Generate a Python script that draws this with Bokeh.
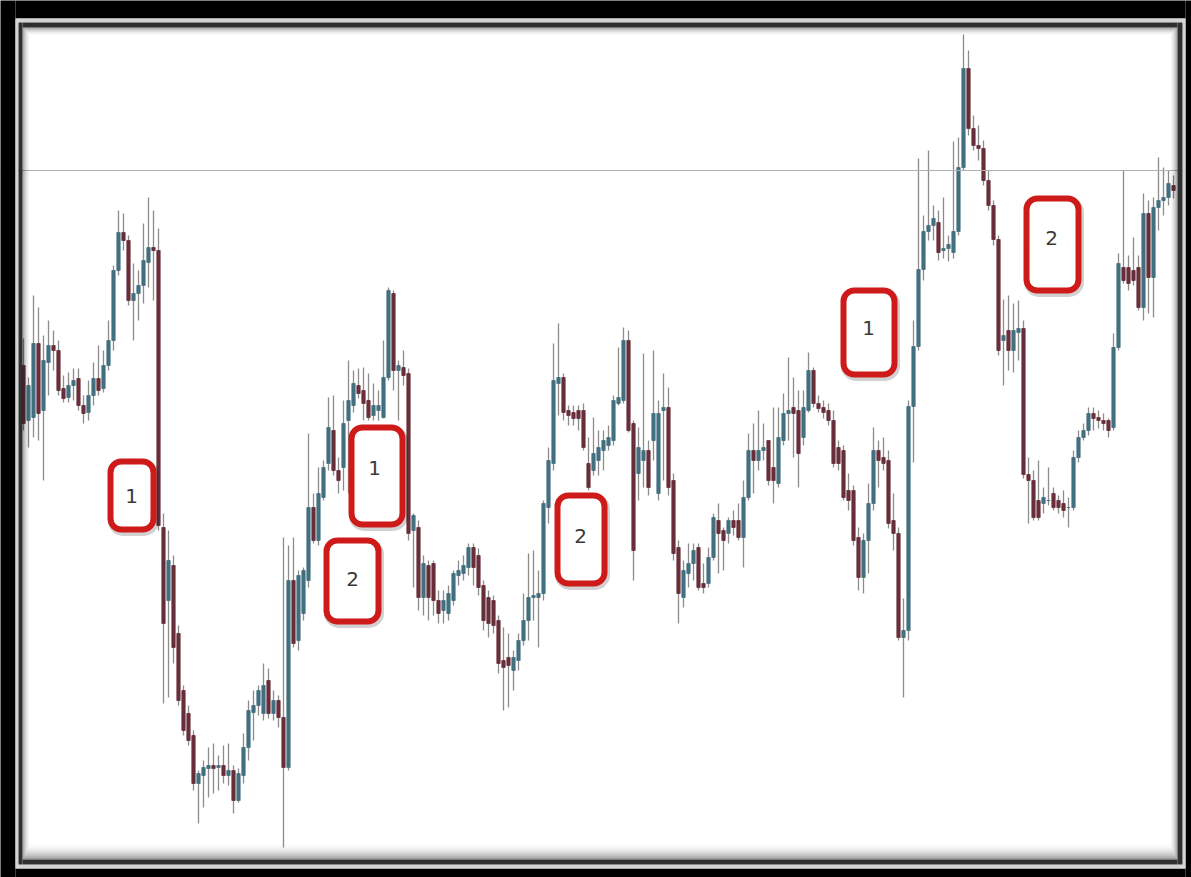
from bokeh.plotting import figure
from bokeh.models import Range1d, ColumnDataSource, Span, BoxAnnotation, Label
from bokeh.embed import file_html
from bokeh.resources import INLINE

# ---- candle data (one bar per period, arbitrary price units) ----
open_ = [515, 460, 463, 537, 470, 518, 535, 530, 492, 483,
         495, 502, 475, 468, 485, 502, 492, 515, 540, 610,
         648, 640, 580, 587, 595, 618, 633, 630, 353, 280,
         315, 247, 190, 167, 145, 97, 105, 112, 115, 113,
         115, 105, 110, 80, 105, 133, 168, 175, 167, 200,
         167, 180, 163, 113, 300, 240, 267, 300, 373, 340,
         383, 417, 450, 410, 413, 460, 475, 495, 490, 480,
         465, 470, 463, 503, 587, 510, 513, 507, 350, 353,
         283, 315, 317, 280, 270, 267, 280, 305, 307, 313,
         333, 325, 295, 283, 280, 260, 220, 223, 210, 220,
         240, 260, 283, 283, 287, 373, 417, 497, 503, 470,
         468, 470, 470, 417, 410, 420, 430, 435, 440, 477,
         480, 540, 457, 407, 420, 430, 440, 387, 470, 473,
         400, 333, 283, 307, 317, 333, 297, 297, 323, 360,
         350, 347, 360, 360, 343, 383, 430, 420, 430, 440,
         413, 397, 440, 467, 473, 470, 443, 470, 510, 477,
         473, 470, 460, 433, 430, 390, 390, 343, 303, 340,
         377, 430, 423, 420, 360, 347, 243, 250, 474, 534,
         611, 649, 655, 658, 630, 632, 628, 649, 713, 812,
         752, 735, 732, 700, 675, 641, 540, 550, 530, 548,
         552, 406, 400, 380, 377, 380, 387, 380, 377, 373,
         373, 423, 443, 450, 467, 463, 460, 460, 453, 533,
         613, 613, 610, 613, 573, 667, 603, 673, 680, 683, 695]

close = [457, 495, 537, 467, 520, 535, 530, 490, 482, 495,
         500, 475, 467, 485, 502, 490, 515, 540, 610, 648,
         640, 580, 587, 595, 620, 633, 630, 355, 257, 320,
         233, 180, 150, 140, 97, 107, 113, 115, 112, 115,
         105, 110, 80, 107, 133, 170, 175, 190, 195, 167,
         180, 163, 113, 300, 237, 305, 310, 373, 340, 387,
         413, 453, 410, 400, 457, 480, 497, 487, 477, 463,
         475, 475, 503, 590, 510, 515, 505, 347, 365, 283,
         317, 283, 280, 267, 280, 287, 307, 310, 315, 333,
         313, 293, 260, 257, 255, 217, 213, 215, 223, 240,
         260, 283, 285, 287, 377, 420, 500, 503, 468, 465,
         462, 462, 433, 393, 427, 433, 440, 443, 480, 483,
         540, 450, 330, 433, 430, 393, 467, 467, 473, 393,
         327, 287, 310, 317, 330, 293, 293, 323, 363, 347,
         340, 360, 353, 343, 383, 430, 420, 430, 433, 400,
         400, 443, 467, 470, 467, 427, 473, 510, 477, 472,
         468, 460, 417, 417, 383, 380, 340, 303, 340, 377,
         430, 420, 417, 357, 347, 243, 250, 474, 534, 611,
         649, 655, 662, 628, 632, 636, 649, 713, 812, 752,
         735, 732, 700, 675, 641, 530, 545, 530, 550, 552,
         406, 400, 363, 363, 383, 380, 373, 373, 370, 373,
         423, 443, 450, 467, 462, 460, 457, 450, 533, 617,
         600, 597, 600, 573, 667, 603, 673, 680, 683, 697, 690]

high = [542, 503, 585, 573, 545, 560, 550, 540, 505, 508,
        512, 512, 485, 500, 518, 535, 530, 560, 615, 670,
        667, 645, 617, 610, 657, 683, 670, 652, 367, 350,
        325, 255, 195, 175, 150, 110, 120, 133, 137, 125,
        135, 137, 115, 112, 147, 180, 190, 195, 217, 212,
        190, 185, 343, 335, 343, 310, 313, 447, 387, 413,
        420, 483, 485, 423, 480, 520, 510, 512, 513, 507,
        497, 490, 540, 593, 590, 520, 530, 512, 367, 360,
        325, 320, 320, 290, 290, 295, 310, 320, 325, 337,
        337, 332, 300, 290, 285, 265, 253, 247, 230, 247,
        287, 327, 330, 310, 380, 433, 537, 557, 507, 475,
        475, 475, 477, 443, 463, 450, 450, 455, 485, 533,
        553, 550, 460, 453, 527, 440, 530, 480, 507, 493,
        407, 340, 320, 337, 337, 337, 317, 333, 367, 377,
        353, 363, 370, 377, 400, 447, 457, 470, 457, 440,
        473, 473, 487, 523, 503, 490, 490, 528, 513, 485,
        480, 477, 470, 440, 435, 407, 395, 353, 347, 397,
        453, 440, 443, 430, 387, 353, 282, 480, 560, 722,
        665, 730, 675, 670, 683, 645, 739, 743, 846, 830,
        765, 755, 740, 710, 680, 645, 581, 585, 577, 580,
        560, 423, 410, 420, 393, 413, 393, 385, 390, 383,
        430, 450, 457, 473, 473, 470, 467, 462, 547, 627,
        710, 625, 643, 625, 687, 680, 683, 723, 713, 710, 705]

low = [450, 433, 443, 440, 400, 485, 510, 485, 478, 478,
       480, 470, 457, 460, 475, 485, 488, 510, 530, 605,
       630, 575, 540, 560, 577, 593, 580, 350, 177, 183,
       217, 175, 145, 135, 90, 57, 73, 83, 87, 90,
       97, 95, 67, 78, 97, 120, 140, 165, 160, 162,
       160, 153, 33, 110, 233, 230, 260, 293, 337, 335,
       380, 410, 405, 387, 390, 387, 468, 482, 460, 460,
       460, 460, 462, 500, 490, 460, 495, 340, 293, 270,
       265, 260, 265, 257, 257, 260, 275, 295, 300, 305,
       295, 285, 250, 243, 247, 207, 170, 173, 190, 210,
       235, 240, 260, 233, 280, 357, 410, 465, 460, 455,
       455, 450, 430, 390, 405, 405, 410, 430, 435, 475,
       477, 448, 300, 380, 393, 385, 420, 380, 400, 385,
       320, 257, 273, 293, 300, 290, 287, 293, 320, 307,
       310, 337, 345, 340, 313, 380, 387, 410, 420, 395,
       377, 393, 435, 440, 423, 393, 435, 468, 473, 468,
       462, 455, 413, 410, 380, 370, 335, 290, 287, 307,
       370, 393, 410, 352, 330, 240, 183, 240, 418, 530,
       600, 640, 640, 620, 622, 619, 622, 645, 710, 745,
       730, 720, 695, 670, 635, 525, 495, 510, 508, 520,
       402, 357, 360, 360, 367, 375, 370, 367, 363, 353,
       370, 418, 440, 445, 450, 452, 450, 443, 450, 530,
       597, 590, 595, 570, 560, 567, 563, 650, 665, 675, 682]

level_price = 710          # horizontal reference level

# annotation boxes: label, left/right (bar index), top/bottom (price), text position
box_labels = ["1", "1", "2", "2", "1", "2"]
box_left = [17.4, 65.6, 60.6, 106.8, 164.0, 200.6]
box_right = [26.0, 75.8, 71.0, 116.2, 174.2, 211.0]
box_top = [419, 453, 340, 385, 590, 682]
box_bottom = [351, 356, 259, 297, 506, 590]
text_x = [21.6, 70.2, 65.8, 111.4, 169.0, 205.6]
text_y = [385, 413, 302, 345, 553, 643]

BULL = "#42707f"
BEAR = "#682f3a"
WICK = "#8c8c8c"

idx = list(range(len(open_)))
body_top = [max(o, c) for o, c in zip(open_, close)]
body_bot = [min(o, c) for o, c in zip(open_, close)]
colors = [BULL if c >= o else BEAR for o, c in zip(open_, close)]

src = ColumnDataSource(dict(x=idx, open=open_, close=close, high=high, low=low,
                            top=body_top, bottom=body_bot, color=colors))

W, H = 1191, 877
p = figure(width=W, height=H, output_backend="svg", toolbar_location=None,
           title=None, x_range=Range1d(-4.6, 233.6), y_range=Range1d(3, 880),
           x_axis_location=None, y_axis_location=None, min_border=0,
           background_fill_color="white", border_fill_color="black",
           outline_line_color=None)
p.grid.visible = False

p.add_layout(Span(location=level_price, dimension="width",
                  line_color="#b0b0b0", line_width=1.2))

p.segment(x0="x", y0="high", x1="x", y1="low", source=src,
          line_color=WICK, line_width=1.3)
p.vbar(x="x", width=0.66, top="top", bottom="bottom", source=src,
       fill_color="color", line_color="color", line_width=0.8)

# annotation boxes with a soft shadow
for l, r, t, b in zip(box_left, box_right, box_top, box_bottom):
    p.add_layout(BoxAnnotation(left=l + 0.3, right=r + 0.3, top=t - 2.5, bottom=b - 2.5,
                               fill_color=None, line_color="#000000", line_alpha=0.18,
                               line_width=8, border_radius=11))
for l, r, t, b in zip(box_left, box_right, box_top, box_bottom):
    p.add_layout(BoxAnnotation(left=l, right=r, top=t, bottom=b,
                               fill_color="white", fill_alpha=1.0,
                               line_color="#cf1a1a", line_alpha=1.0,
                               line_width=6, border_radius=11))
for s, x, y in zip(box_labels, text_x, text_y):
    p.add_layout(Label(x=x, y=y, text=s, text_align="center", text_baseline="middle",
                       text_font="DejaVu Sans", text_font_size="20px",
                       text_color="#3a3a3a"))

# picture frame (pixel space of the canvas)
p.extra_x_ranges = {"px": Range1d(0, W)}
p.extra_y_ranges = {"py": Range1d(H, 0)}


def ring(outer, inner, color, alpha=1.0):
    l0, t0, r0, b0 = outer
    l1, t1, r1, b1 = inner
    p.quad(left=[l0, l1, r1, l1], right=[l1, r1, r0, r1],
           top=[t0, t0, t0, b1], bottom=[b0, t1, b0, b0],
           fill_color=color, fill_alpha=alpha, line_color=None,
           x_range_name="px", y_range_name="py", level="overlay")


ring((0, 0, W, H), (15, 18, 1185, 868), "black")
ring((15, 18, 1185, 868), (18, 22, 1182, 864), "#d4d4d4")
ring((18, 22, 1182, 864), (22, 27, 1177, 859), "#303030")
for k in range(8):
    a = 0.38 * (1 - k / 8) ** 2
    ring((22 + k, 27 + k, 1177 - k, 859 - 2 * k),
         (23 + k, 28 + k, 1176 - k, 857 - 2 * k), "black", a)

open("out.html", "w").write(file_html(p, INLINE))
